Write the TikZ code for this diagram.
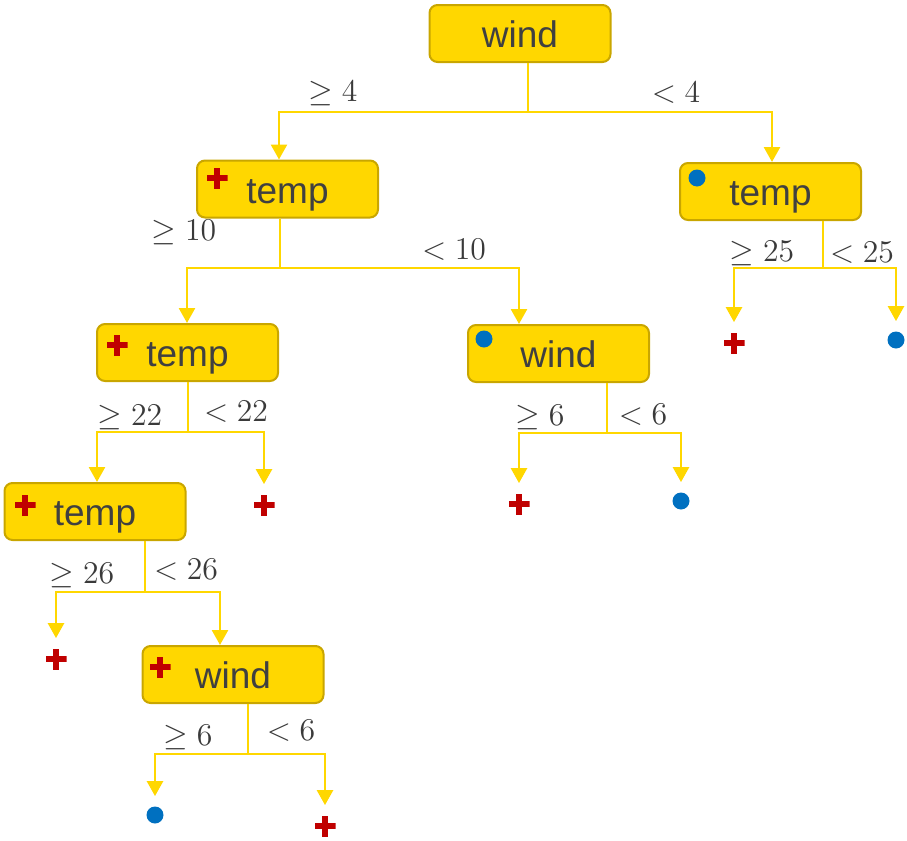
\documentclass[tikz,border=0pt]{standalone}
\usepackage{fontspec}
\newfontfamily\boxfont{Liberation Sans}
\usetikzlibrary{arrows.meta}
\definecolor{boxfill}{HTML}{FFD700}
\definecolor{boxline}{HTML}{C9A600}
\definecolor{linkgold}{HTML}{FFD700}
\definecolor{markred}{HTML}{C00000}
\definecolor{markblue}{HTML}{0070C0}
\definecolor{textgray}{HTML}{404040}
\begin{document}
\begin{tikzpicture}[x=0.5pt,y=-0.5pt,
    testbox/.style={draw=boxline,fill=boxfill,line width=1pt,rounded corners=4pt,
        minimum width=90.5pt,minimum height=28.5pt,inner sep=0pt,
        text height=14pt,text depth=0pt,
        font=\boxfont\fontsize{18.5}{22}\selectfont,text=textgray},
    cond/.style={font=\fontsize{14.4}{17}\selectfont,text=textgray!90!black,inner sep=0pt,scale=1.1},
    plusmark/.style={minimum size=10.5pt,inner sep=0pt,
        path picture={
            \fill[markred] ([yshift=-1.5pt]path picture bounding box.west) rectangle ([yshift=1.5pt]path picture bounding box.east);
            \fill[markred] ([xshift=-1.5pt]path picture bounding box.north) rectangle ([xshift=1.5pt]path picture bounding box.south);}},
    dotmark/.style={circle,fill=markblue,minimum size=8.5pt,inner sep=0pt},
    link/.style={draw=linkgold,line width=1.3pt},
    linkarrow/.style={link,-{Triangle[width=8pt,length=7.5pt]}},
    leafarrow/.style={linkarrow,shorten >=5pt}]
    \useasboundingbox (0,0) rectangle (907,841);
    % test nodes
    \node[testbox] (w1) at (520,33.5) {wind};
    \node[testbox] (t1) at (287.5,189) {temp};
    \node[testbox] (t2) at (770.5,191.5) {temp};
    \node[testbox] (t3) at (187.5,352.5) {temp};
    \node[testbox] (w2) at (558.5,353.5) {wind};
    \node[testbox] (t4) at (95,511.5) {temp};
    \node[testbox] (w3) at (233,674.5) {wind};
    % majority class in boxes
    \node[plusmark] (t1m) at (217,178) {};
    \node[dotmark]  (t2m) at (697,178) {};
    \node[plusmark] (t3m) at (117,345) {};
    \node[dotmark]  (w2m) at (484,339) {};
    \node[plusmark] (t4m) at (25,505) {};
    \node[plusmark] (w3m) at (160,667) {};
    % leaves
    \node[plusmark] (t2a) at (734,343) {};
    \node[dotmark]  (t2b) at (896,340) {};
    \node[plusmark] (t3b) at (264,505) {};
    \node[plusmark] (w2a) at (519,504) {};
    \node[dotmark]  (w2b) at (681,501) {};
    \node[plusmark] (t4a) at (56,659) {};
    \node[dotmark]  (w3a) at (155,815) {};
    \node[plusmark] (w3b) at (325,826) {};
    % split points
    \coordinate (w1s) at (528,112);
    \coordinate (w1a) at (279,112);
    \coordinate (w1b) at (772,112);
    \coordinate (t1s) at (280,268);
    \coordinate (t1a) at (187,268);
    \coordinate (t1b) at (519,268);
    \coordinate (t2s) at (823,268);
    \coordinate (t3s) at (188,432);
    \coordinate (t3a) at (97,432);
    \coordinate (w2s) at (607,433);
    \coordinate (t4s) at (145,592);
    \coordinate (t4b) at (220,592);
    \coordinate (w3s) at (248,754);
    % branches
    \draw[link] (w1.south -| w1s) -- (w1s);
    \draw[linkarrow] (w1s) -- (w1a) -- (w1a |- t1.north);
    \draw[linkarrow] (w1s) -- (w1b) -- (w1b |- t2.north);
    \draw[link] (t1.south -| t1s) -- (t1s);
    \draw[linkarrow] (t1s) -- (t1a) -- (t1a |- t3.north);
    \draw[linkarrow] (t1s) -- (t1b) -- (t1b |- w2.north);
    \draw[link] (t2.south -| t2s) -- (t2s);
    \draw[leafarrow] (t2s) -| (t2a.north);
    \draw[leafarrow] (t2s) -| (t2b.north);
    \draw[link] (t3.south -| t3s) -- (t3s);
    \draw[linkarrow] (t3s) -- (t3a) -- (t3a |- t4.north);
    \draw[leafarrow] (t3s) -| (t3b.north);
    \draw[link] (w2.south -| w2s) -- (w2s);
    \draw[leafarrow] (w2s) -| (w2a.north);
    \draw[leafarrow] (w2s) -| (w2b.north);
    \draw[link] (t4.south -| t4s) -- (t4s);
    \draw[leafarrow] (t4s) -| (t4a.north);
    \draw[linkarrow] (t4s) -- (t4b) -- (t4b |- w3.north);
    \draw[link] (w3.south -| w3s) -- (w3s);
    \draw[leafarrow] (w3s) -| (w3a.north);
    \draw[leafarrow] (w3s) -| (w3b.north);
    % conditions
    \node[cond] (w1y) at (333,93) {$\geq 4$};
    \node[cond] (w1n) at (676,93) {$< 4$};
    \node[cond] (t1y) at (184,232) {$\geq 10$};
    \node[cond] (t1n) at (454,250) {$< 10$};
    \node[cond] (t2y) at (762,253) {$\geq 25$};
    \node[cond] (t2n) at (862,253) {$< 25$};
    \node[cond] (t3y) at (130,417) {$\geq 22$};
    \node[cond] (t3n) at (236,412) {$< 22$};
    \node[cond] (w2y) at (540,417) {$\geq 6$};
    \node[cond] (w2n) at (643,415) {$< 6$};
    \node[cond] (t4y) at (82,575) {$\geq 26$};
    \node[cond] (t4n) at (186,570) {$< 26$};
    \node[cond] (w3y) at (188,737) {$\geq 6$};
    \node[cond] (w3n) at (291,731) {$< 6$};
\end{tikzpicture}
\end{document}
